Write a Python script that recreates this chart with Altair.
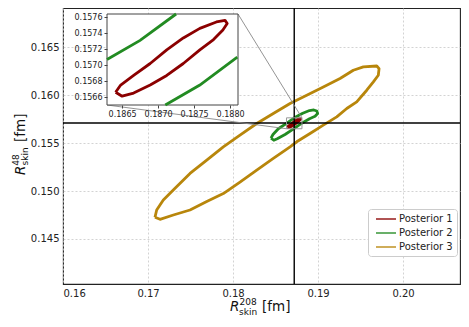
import altair as alt
import pandas as pd

# ---------------- data ----------------
series_names = ["Posterior 1", "Posterior 2", "Posterior 3"]
series_colors = ["#8B0000", "#228B22", "#B8860B"]

# Posterior 1 contour
p1_x = [0.18641, 0.18650, 0.18666, 0.18689, 0.18712, 0.18735, 0.18758, 0.18777, 0.18790,
        0.18796, 0.18793, 0.18781, 0.18758, 0.18735, 0.18712, 0.18689, 0.18666, 0.18648]
p1_y = [0.15666, 0.15661, 0.15665, 0.15675, 0.15687, 0.15702, 0.15719, 0.15732, 0.15744,
        0.15752, 0.15756, 0.15754, 0.15746, 0.15734, 0.15719, 0.15702, 0.15687, 0.15675]

# Posterior 2 contour
p2_x = [0.18447, 0.18470, 0.18533, 0.18629, 0.18721, 0.18820, 0.18900, 0.18950, 0.18985,
        0.18996, 0.18965, 0.18900, 0.18809, 0.18712, 0.18612, 0.18520, 0.18480]
p2_y = [0.15552, 0.15590, 0.15650, 0.15706, 0.15764, 0.15812, 0.15840, 0.15846, 0.15835,
        0.15809, 0.15780, 0.15755, 0.15708, 0.15648, 0.15590, 0.15545, 0.15530]

# Posterior 3 contour
p3_x = [0.17082, 0.17102, 0.17180, 0.17318, 0.17494, 0.17691, 0.17886, 0.18082, 0.18279,
        0.18474, 0.18671, 0.18867, 0.19062, 0.19259, 0.19415, 0.19533, 0.19691, 0.19718,
        0.19709, 0.19651, 0.19573, 0.19455, 0.19338, 0.19220, 0.19062, 0.18906, 0.18749,
        0.18671, 0.18474, 0.18279, 0.18082, 0.17886, 0.17691, 0.17494, 0.17298, 0.17141]
p3_y = [0.14726, 0.14802, 0.14906, 0.15028, 0.15184, 0.15323, 0.15461, 0.15583, 0.15705,
        0.15809, 0.15914, 0.16000, 0.16086, 0.16174, 0.16260, 0.16295, 0.16305, 0.16278,
        0.16208, 0.16139, 0.16052, 0.15930, 0.15861, 0.15774, 0.15688, 0.15601, 0.15514,
        0.15461, 0.15341, 0.15219, 0.15094, 0.14974, 0.14891, 0.14802, 0.14750, 0.14705]

# crosshair (reference values)
center_x = [0.1872]
center_y = [0.1571]

# main axes
main_xlim = [0.16, 0.2067]
main_ylim = [0.1403, 0.1691]
main_xticks = [0.16, 0.17, 0.18, 0.19, 0.20]
main_yticks = [0.145, 0.150, 0.155, 0.160, 0.165]

# inset axes
inset_xlim = [0.18629, 0.18811]
inset_ylim = [0.15650, 0.15764]
inset_xticks = [0.1865, 0.1870, 0.1875, 0.1880]
inset_yticks = [0.1566, 0.1568, 0.1570, 0.1572, 0.1574, 0.1576]

# Posterior 2 segments visible inside the inset
inset_g_upper_x = [0.18629, 0.18675, 0.18725]
inset_g_upper_y = [0.15707, 0.15731, 0.15764]
inset_g_lower_x = [0.18710, 0.18758, 0.18810]
inset_g_lower_y = [0.15650, 0.15675, 0.15710]

# ---------------- tables ----------------
rows = []
for name, xs, ys in zip(series_names, [p1_x, p2_x, p3_x], [p1_y, p2_y, p3_y]):
    for i, (xv, yv) in enumerate(zip(xs + xs[:1], ys + ys[:1])):
        rows.append({"series": name, "i": i, "x": xv, "y": yv})
contour_df = pd.DataFrame(rows)

inset_red_df = pd.DataFrame({"ix": p1_x + p1_x[:1], "iy": p1_y + p1_y[:1],
                             "i": list(range(len(p1_x) + 1))})
inset_gu_df = pd.DataFrame({"ix": inset_g_upper_x, "iy": inset_g_upper_y, "i": [0, 1, 2]})
inset_gl_df = pd.DataFrame({"ix": inset_g_lower_x, "iy": inset_g_lower_y, "i": [0, 1, 2]})
box_df = pd.DataFrame({"x0": [inset_xlim[0]], "x1": [inset_xlim[1]],
                       "y0": [inset_ylim[0]], "y1": [inset_ylim[1]]})
cx_df = pd.DataFrame({"x": center_x})
cy_df = pd.DataFrame({"y": center_y})
one = pd.DataFrame({"k": [0]})

FONT = "DejaVu Sans"
W, H = 397, 276
INSET_L, INSET_R, INSET_T, INSET_B = 44, 175, 6, 97

main_axis_x = alt.Axis(values=main_xticks, format=".2f", title=None, grid=True, ticks=False,
                       domain=False, labelPadding=4, labelFontSize=10, labelFont=FONT,
                       labelColor="#222", gridColor="#c8c8c8", gridDash=[2, 2], gridWidth=0.8)
main_axis_y = alt.Axis(values=main_yticks, format=".3f", title=None, grid=True, ticks=False,
                       domain=False, labelPadding=4, labelFontSize=10, labelFont=FONT,
                       labelColor="#222", gridColor="#c8c8c8", gridDash=[2, 2], gridWidth=0.8)
main_xs = alt.Scale(domain=main_xlim, nice=False, zero=False)
main_ys = alt.Scale(domain=main_ylim, nice=False, zero=False)


def MX(f):
    return alt.X(f, type="quantitative", scale=main_xs, axis=main_axis_x)


def MY(f):
    return alt.Y(f, type="quantitative", scale=main_ys, axis=main_axis_y)


inset_axis_x = alt.Axis(values=inset_xticks, format=".4f", title=None, grid=False, orient="bottom",
                        offset=INSET_B - H, domain=False, tickSize=3, tickColor="#444",
                        labelPadding=2, labelFontSize=8, labelFont=FONT, labelColor="#222",
                        zindex=1)
inset_axis_y = alt.Axis(values=inset_yticks, format=".4f", title=None, grid=False, orient="left",
                        offset=-INSET_L, domain=False, tickSize=3, tickColor="#444",
                        labelPadding=2, labelFontSize=8, labelFont=FONT, labelColor="#222",
                        zindex=1)
inset_xs = alt.Scale(domain=inset_xlim, range=[INSET_L, INSET_R], nice=False, zero=False)
inset_ys = alt.Scale(domain=inset_ylim, range=[INSET_B, INSET_T], nice=False, zero=False)


def IX(f):
    return alt.X(f, type="quantitative", scale=inset_xs, axis=inset_axis_x)


def IY(f):
    return alt.Y(f, type="quantitative", scale=inset_ys, axis=inset_axis_y)


# ---------------- main panel ----------------
contours = alt.Chart(contour_df).mark_line(strokeWidth=2.8, strokeJoin="round").encode(
    x=MX("x"), y=MY("y"),
    color=alt.Color("series:N", scale=alt.Scale(domain=series_names, range=series_colors),
                    legend=alt.Legend(title=None, orient="none", legendX=305, legendY=201,
                                      fillColor="white", strokeColor="#cccccc", cornerRadius=3,
                                      padding=4, symbolType="M-2,0H2", symbolStrokeWidth=1.8,
                                      symbolSize=100, symbolOpacity=0.75, symbolOffset=8,
                                      labelFont=FONT, labelFontSize=10, labelColor="#222",
                                      rowPadding=3, labelOffset=7)),
    detail="series:N", order="i:Q")

vrule = alt.Chart(cx_df).mark_rule(color="black", strokeWidth=1.4).encode(x=MX("x"))
hrule = alt.Chart(cy_df).mark_rule(color="black", strokeWidth=1.4).encode(y=MY("y"))

indicator = alt.Chart(box_df).mark_rect(fillOpacity=0, stroke="#999999", strokeWidth=1).encode(
    x=MX("x0"), x2="x1", y=MY("y0"), y2="y1")
conn1 = alt.Chart(box_df).mark_rule(color="#888888", strokeWidth=0.9).encode(
    x=MX("x0"), y=MY("y0"), x2=alt.value(INSET_L), y2=alt.value(INSET_B))
conn2 = alt.Chart(box_df).mark_rule(color="#888888", strokeWidth=0.9).encode(
    x=MX("x1"), y=MY("y1"), x2=alt.value(INSET_R), y2=alt.value(INSET_T))


def txt(s, x, y, size, italic=False, angle=0):
    kw = dict(text=s, font=FONT, fontSize=size, align="left", baseline="alphabetic",
              color="#111")
    if italic:
        kw["fontStyle"] = "italic"
    if angle:
        kw["angle"] = angle
    return alt.Chart(one).mark_text(**kw).encode(x=alt.value(x), y=alt.value(y))


titles = [
    txt("R", 167, 303.3, 13.5, italic=True),
    txt("208", 176.5, 296.8, 9),
    txt("skin", 176, 306.5, 9),
    txt("[fm]", 199, 303.3, 13.5),
    txt("R", -38, 167, 13.5, italic=True, angle=270),
    txt("48", -44.5, 157.8, 9, angle=270),
    txt("skin", -35, 157.5, 9, angle=270),
    txt("[fm]", -38, 134, 13.5, angle=270),
]

main = alt.layer(contours, vrule, hrule, indicator, conn1, conn2, *titles)

# ---------------- inset panel ----------------
inset_bg = alt.Chart(box_df).mark_rect(fill="white", stroke="#444444", strokeWidth=1).encode(
    x=IX("x0"), x2="x1", y=IY("y0"), y2="y1")
inset_red = alt.Chart(inset_red_df).mark_line(color=series_colors[0], strokeWidth=2.8,
                                              strokeJoin="round").encode(
    x=IX("ix"), y=IY("iy"), order="i:Q")
inset_gu = alt.Chart(inset_gu_df).mark_line(color=series_colors[1], strokeWidth=2.8).encode(
    x=IX("ix"), y=IY("iy"), order="i:Q")
inset_gl = alt.Chart(inset_gl_df).mark_line(color=series_colors[1], strokeWidth=2.8).encode(
    x=IX("ix"), y=IY("iy"), order="i:Q")

inset = alt.layer(inset_bg, inset_red, inset_gu, inset_gl)

chart = alt.layer(main, inset).resolve_scale(x="independent", y="independent").properties(
    width=W, height=H,
    autosize=alt.AutoSizeParams(type="none"),
    padding={"left": 55, "top": 0, "right": 1, "bottom": 35},
).configure_view(stroke="#222", strokeWidth=1.1)

chart.save("out.html", embed_options={"renderer": "svg", "actions": False})
